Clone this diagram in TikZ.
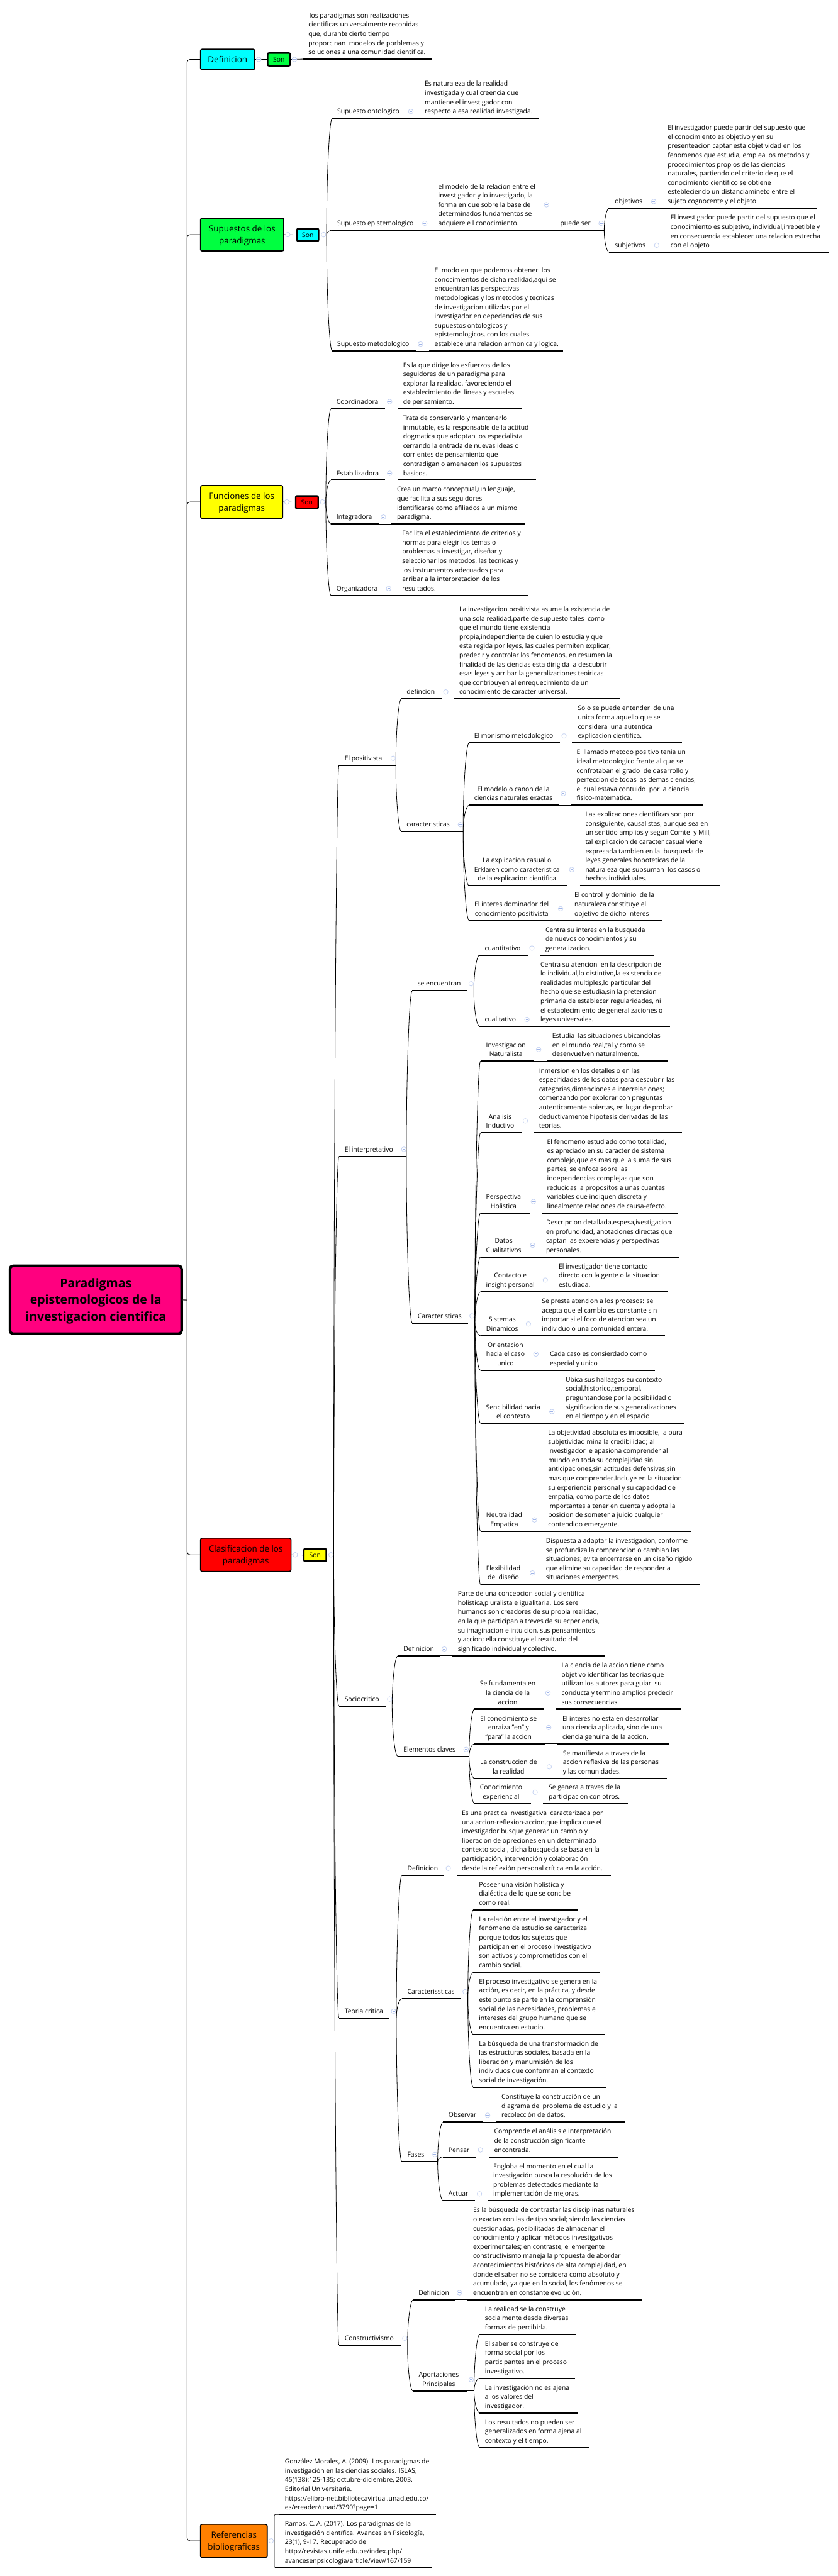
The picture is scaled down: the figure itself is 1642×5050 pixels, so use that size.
\documentclass[tikz,border=0pt]{standalone}
\usepackage{fontspec}
\setmainfont{Open Sans}
\usetikzlibrary{calc}
\definecolor{cPink}{HTML}{FF007F}
\definecolor{cGreen}{HTML}{00FF40}
\definecolor{cCyan}{HTML}{00FFFF}
\definecolor{cYellow}{HTML}{FFFF00}
\definecolor{cRed}{HTML}{FF0000}
\definecolor{cOrange}{HTML}{FF8000}
\definecolor{cRing}{HTML}{C6D3F2}
\definecolor{cDash}{HTML}{9FB4E8}
\tikzset{
 x=1pt,y=-1pt,
 tx/.style={anchor=south west,inner sep=0pt,outer sep=0pt,align=left,text depth=0pt,font=\fontsize{12.75}{18}\selectfont},
 tcx/.style={tx,align=center},
 under/.style={line width=2.5pt,black},
 conn/.style={line width=1pt,black},
 rootbox/.style={draw=black,line width=5pt,rounded corners=6pt,fill=cPink,align=center,inner sep=0pt,font=\fontsize{24}{33}\selectfont\bfseries},
 mainbox/.style={draw=black,line width=2pt,rounded corners=3pt,align=center,inner sep=0pt,font=\fontsize{16.5}{24}\selectfont},
 sonbox/.style={draw=black,line width=3pt,rounded corners=2.5pt,align=center,inner sep=0pt,font=\fontsize{12.8}{18}\selectfont},
 ring/.style={draw=cRing,fill=white,line width=1pt},
 dashmark/.style={draw=cDash,line width=1pt},
}
\newcommand\tp[6]{%
 \coordinate (#1L) at (#2,#4);
 \coordinate (#1R) at (#3,#4);
 \node[tx] (#1) at (#5,#4-9.2) {#6};
 \draw[under] (#1L) -- (#1R);
}
\newcommand\tc[6]{%
 \coordinate (#1L) at (#2,#4);
 \coordinate (#1R) at (#3,#4);
 \node[tcx] (#1) at (#5,#4-9.2) {#6};
 \draw[under] (#1L) -- (#1R);
}
\newcommand\cv[2]{\draw[conn] (#1) .. controls ($(#1)!.5!(#1|-#2)$) and ($(#2)!.5!(#1|-#2)$) .. (#2);}
\newcommand\upR{\rule{0pt}{23.5pt}}
\newcommand\upM{\rule{0pt}{16pt}}
\begin{document}
\begin{tikzpicture}
\useasboundingbox[fill=white] (0,0) rectangle (1642,5050);

% main boxes
\node[rootbox,minimum width=336.5pt,minimum height=133pt] (root) at (187.75,2548) {\upR Paradigmas\\epistemologicos de la\\investigacion cientifica};
\coordinate (trunk) at (366.5,2548.8);
\node[mainbox,fill=cCyan,minimum width=106pt,minimum height=40pt] (defb) at (446,116.5) {Definicion};
\node[sonbox,fill=cGreen,minimum width=44pt,minimum height=25pt] (sond) at (546.5,116.5) {Son};
\node[mainbox,fill=cGreen,minimum width=163pt,minimum height=64pt] (supb) at (474.5,460) {\upM Supuestos de los\\paradigmas};
\node[sonbox,fill=cCyan,minimum width=42.5pt,minimum height=24pt] (sons) at (603.2,460.5) {Son};
\node[mainbox,fill=cYellow,minimum width=160.7pt,minimum height=64.6pt] (funb) at (473.65,984) {\upM Funciones de los\\paradigmas};
\node[sonbox,fill=cRed,minimum width=44pt,minimum height=24.6pt] (sonf) at (601.5,984.5) {Son};
\node[mainbox,fill=cRed,minimum width=177.4pt,minimum height=65pt] (clab) at (481.7,3048) {\upM Clasificacion de los\\paradigmas};
\node[sonbox,fill=cYellow,minimum width=44pt,minimum height=24pt] (sonc) at (617.5,3048.5) {Son};
\node[mainbox,fill=cOrange,minimum width=130.6pt,minimum height=64.6pt] (refb) at (458.3,4981) {\upM Referencias\\bibliograficas};

% Definicion
\tp{defl}{593}{847.5}{116}{604.5}{\hspace*{2pt}los paradigmas son realizaciones\\cientificas universalmente reconidas\\que, durante cierto tiempo\\proporcinan~~modelos de porblemas y\\soluciones a una comunidad cientifica.}

% Supuestos
\tp{onto}{651}{797}{232}{661}{Supuesto ontologico}
\tp{ontol}{822}{1055.6}{232}{832.5}{Es naturaleza de la realidad\\investigada y cual creencia que\\mantiene el investigador con\\respecto a esa realidad investigada.}
\tp{epis}{651}{824}{451.3}{661}{Supuesto epistemologico}
\tp{episl}{849}{1063}{451.3}{859}{el modelo de la relacion entre el\\investigador y lo investigado, la\\forma en que sobre la base de\\determinados fundamentos se\\adquiere e l conocimiento.}
\tp{puede}{1087}{1170}{451.3}{1098}{puede ser}
\tp{obj}{1194}{1273}{408}{1205}{objetivos}
\tp{objl}{1298}{1602}{408}{1308.5}{El investigador puede partir del supuesto que\\el conocimiento es objetivo y en su\\presenteacion captar esta objetividad en los\\fenomenos que estudia, emplea los metodos y\\procedimientos propios de las ciencias\\naturales, partiendo del criterio de que el\\conocimiento cientifico se obtiene\\estebleciendo un distanciamineto entre el\\sujeto cognocente y el objeto.}
\tp{sub}{1194}{1279.5}{494.5}{1205}{subjetivos}
\tp{subl}{1304}{1624}{494.5}{1314}{El investigador puede partir del supuesto que el\\conocimiento es subjetivo, individual,irrepetible y\\en consecuencia establecer una relacion estrecha\\con el objeto}
\tp{meto}{651}{816}{688}{661}{Supuesto metodologico}
\tp{metol}{841}{1104}{688}{851.6}{El modo en que podemos obtener~~los\\conocimientos de dicha realidad,aqui se\\encuentran las perspectivas\\metodologicas y los metodos y tecnicas\\de investigacion utilizdas por el\\investigador en depedencias de sus\\supuestos ontologicos y\\epistemologicos, con los cuales\\establece una relacion armonica y logica.}

% Funciones
\tp{coor}{648.7}{755}{801.3}{659.5}{Coordinadora}
\tp{coorl}{779.4}{1022}{801.3}{790}{Es la que dirige los esfuerzos de los\\seguidores de un paradigma para\\explorar la realidad, favoreciendo el\\establecimiento de~~lineas y escuelas\\de pensamiento.}
\tp{esta}{648.7}{755}{941.3}{659.5}{Estabilizadora}
\tp{estal}{779.4}{1051}{941.3}{790}{Trata de conservarlo y mantenerlo\\inmutable, es la responsable de la actitud\\dogmatica que adoptan los especialista\\cerrando la entrada de nuevas ideas o\\corrientes de pensamiento que\\contradigan o amenacen los supuestos\\basicos.}
\tp{inte}{648.7}{743}{1027.3}{659.5}{Integradora}
\tp{intel}{767.3}{1030}{1027.3}{778}{Crea un marco conceptual,un lenguaje,\\que facilita a sus seguidores\\identificarse como afiliados a un mismo\\paradigma.}
\tp{orga}{648.7}{753.3}{1167.3}{659.5}{Organizadora}
\tp{orgal}{777.5}{1035}{1167.3}{788.3}{Facilita el establecimiento de criterios y\\normas para elegir los temas o\\problemas a investigar, diseñar y\\seleccionar los metodos, las tecnicas y\\los instrumentos adecuados para\\arribar a la interpretacion de los\\resultados.}

% Positivista
\tp{posi}{664.2}{762.6}{1500.4}{675.4}{El positivista}
\tp{dfn}{786.4}{865.4}{1370.3}{797}{defincion}
\tp{dfnl}{889.6}{1214.4}{1370.3}{900.3}{La investigacion positivista asume la existencia de\\una sola realidad,parte de supuesto tales~~como\\que el mundo tiene existencia\\propia,independiente de quien lo estudia y que\\esta regida por leyes, las cuales permiten explicar,\\predecir y controlar los fenomenos, en resumen la\\finalidad de las ciencias esta dirigida~~a descubrir\\esas leyes y arribar la generalizaciones teoiricas\\que contribuyen al enrequecimiento de un\\conocimiento de caracter universal.}
\tp{car}{786.4}{894.5}{1630}{797}{caracteristicas}
\tp{moni}{919.2}{1097.6}{1456.2}{929.4}{El monismo metodologico}
\tp{monil}{1121.3}{1336.6}{1456.2}{1132.5}{Solo se puede entender~~de una\\unica forma aquello que se\\considera~~una autentica\\explicacion cientifica.}
\tc{mode}{919.2}{1095.6}{1578.5}{929.4}{El modelo o canon de la\\ciencias naturales exactas}
\tp{model}{1119.4}{1377.8}{1578.5}{1130}{El llamado metodo positivo tenia un\\ideal metodologico frente al que se\\confrotaban el grado~~de dasarrollo y\\perfeccion de todas las demas ciencias,\\el cual estava contuido~~por la ciencia\\fisico-matematica.}
\tc{expl}{919.2}{1112.6}{1736.3}{929.4}{La explicacion casual o\\Erklaren como caracteristica\\de la explicacion cientifica}
\tp{expll}{1136.7}{1410}{1736.3}{1147.3}{Las explicaciones cientificas son por\\consiguiente, causalistas, aunque sea en\\un sentido amplios y segun Comte~~y Mill,\\tal explicacion de caracter casual viene\\expresada tambien en la~~busqueda de\\leyes generales hopoteticas de la\\naturaleza que subsuman~~los casos o\\hechos individuales.}
\tc{inter}{919.2}{1090.3}{1804.4}{929.9}{El interes dominador del\\conocimiento positivista}
\tp{interl}{1114.6}{1297.8}{1804.4}{1125.7}{El control~~y dominio~~de la\\naturaleza constituye el\\objetivo de dicho interes}

% Interpretativo
\tp{intp}{664.2}{783}{2267}{675.4}{El interpretativo}
\tp{seen}{807.8}{915.5}{1942.3}{818.4}{se encuentran}
\tp{cuan}{939.6}{1034.3}{1872.4}{950.2}{cuantitativo}
\tp{cuanl}{1058.4}{1280.4}{1872.4}{1069}{Centra su interes en la busqueda\\de nuevos conocimientos y su\\generalizacion.}
\tp{cual}{939.6}{1024}{2012.3}{950.2}{cualitativo}
\tp{cuall}{1048.6}{1313.5}{2012.3}{1059.2}{Centra su atencion~~en la descripcion de\\lo individual,lo distintivo,la existencia de\\realidades multiples,lo particular del\\hecho que se estudia,sin la pretension\\primaria de establecer regularidades, ni\\el establecimiento de generalizaciones o\\leyes universales.}
\tp{cari}{807.8}{917.6}{2593.5}{818.4}{Caracteristicas}
\tc{natu}{941.6}{1047.3}{2080.3}{952.7}{Investigacion\\Naturalista}
\tp{natul}{1071.4}{1309.4}{2080.3}{1082.4}{Estudia~~las situaciones ubicandolas\\en el mundo real,tal y como se\\desenvuelven naturalmente.}
\tc{anal}{941.6}{1021.6}{2220.7}{952.7}{Analisis\\Inductivo}
\tp{anall}{1045.7}{1336.7}{2220.7}{1056.3}{Inmersion en los detalles o en las\\especifidades de los datos para descubrir las\\categorias,dimenciones e interrelaciones;\\comenzando por explorar con preguntas\\autenticamente abiertas, en lugar de probar\\deductivamente hipotesis derivadas de las\\teorias.}
\tc{holi}{941.6}{1037.6}{2378}{952.7}{Perspectiva\\Holistica}
\tp{holil}{1061.6}{1329.4}{2378}{1072.2}{El fenomeno estudiado como totalidad,\\es apreciado en su caracter de sistema\\complejo,que es mas que la suma de sus\\partes, se enfoca sobre las\\independencias complejas que son\\reducidas~~a propositos a unas cuantas\\variables que indiquen discreta y\\linealmente relaciones de causa-efecto.}
\tc{dato}{941.6}{1035.5}{2464.5}{952.7}{Datos\\Cualitativos}
\tp{datol}{1059.6}{1330.2}{2464.5}{1070.2}{Descripcion detallada,espesa,ivestigacion\\en profundidad, anotaciones directas que\\captan las experencias y perspectivas\\personales.}
\tc{cont}{941.6}{1060.4}{2532.2}{952.7}{Contacto e\\insight personal}
\tp{contl}{1084.5}{1309.4}{2532.2}{1095}{El investigador tiene contacto\\directo con la gente o la situacion\\estudiada.}
\tc{sist}{941.6}{1027.8}{2618.4}{953}{Sistemas\\Dinamicos}
\tp{sistl}{1051.8}{1303.7}{2618.4}{1062}{Se presta atencion a los procesos: se\\acepta que el cambio es constante sin\\importar si el foco de atencion sea un\\individuo o una comunidad entera.}
\tc{orie}{941.6}{1042}{2686.5}{953}{Orientacion\\hacia el caso\\unico}
\tp{oriel}{1066.5}{1283.3}{2686.5}{1077.6}{Cada caso es consierdado como\\especial y unico}
\tc{senc}{941.6}{1073.5}{2790.2}{952.7}{Sencibilidad hacia\\el contexto}
\tp{sencl}{1097.6}{1339.6}{2790.2}{1108.6}{Ubica sus hallazgos eu contexto\\social,historico,temporal,\\preguntandose por la posibilidad o\\significacion de sus generalizaciones\\en el tiempo y en el espacio}
\tc{neut}{941.6}{1039.6}{3002}{953}{Neutralidad\\Empatica}
\tp{neutl}{1063.7}{1353.5}{3002}{1074.3}{La objetividad absoluta es imposible, la pura\\subjetividad mina la credibilidad; al\\investigador le apasiona comprender al\\mundo en toda su complejidad sin\\anticipaciones,sin actitudes defensivas,sin\\mas que comprender.Incluye en la situacion\\su experiencia personal y su capacidad de\\empatia, como parte de los datos\\importantes a tener en cuenta y adopta la\\posicion de someter a juicio cualquier\\contendido emergente.}
\tc{flex}{941.5}{1035.5}{3106.2}{953}{Flexibilidad\\del diseño}
\tp{flexl}{1059.8}{1371.5}{3106.2}{1070}{Dispuesta a adaptar la investigacion, conforme\\se profundiza la comprencion o cambian las\\situaciones; evita encerrarse en un diseño rigido\\que elimine su capacidad de responder a\\situaciones emergentes.}

% Sociocritico
\tp{soci}{664.2}{755.4}{3344.4}{675.4}{Sociocritico}
\tp{sdef}{779.6}{862.5}{3246}{790.8}{Definicion}
\tp{sdefl}{886.7}{1185.3}{3246}{897.4}{Parte de una concepcion social y cientifica\\holistica,pluralista e igualitaria. Los sere\\humanos son creadores de su propia realidad,\\en la que participan a treves de su ecperiencia,\\su imaginacion e intuicion, sus pensamientos\\y accion; ella constituye el resultado del\\significado individual y colectivo.}
\tp{elem}{779.6}{905.6}{3443.2}{790.8}{Elementos claves}
\tc{sefu}{929.9}{1065.6}{3350.4}{940.5}{Se fundamenta en\\la ciencia de la\\accion}
\tp{seful}{1089.8}{1335.6}{3350.4}{1100.5}{La ciencia de la accion tiene como\\objetivo identificar las teorias que\\utilizan los autores para guiar~~su\\conducta y termino amplios predecir\\sus consecuencias.}
\tc{econ}{929.9}{1067.5}{3418.5}{941}{El conocimiento se\\enraiza "en" y\\"para" la accion}
\tp{econl}{1091.8}{1311.4}{3418.5}{1102.4}{El interes no esta en desarrollar\\una ciencia aplicada, sino de una\\ciencia genuina de la accion.}
\tc{lcon}{929.9}{1068.5}{3486.5}{941}{La construccion de\\la realidad}
\tp{lconl}{1092.7}{1306.5}{3486.5}{1103.4}{Se manifiesta a traves de la\\accion reflexiva de las personas\\y las comunidades.}
\tc{cexp}{929.9}{1040.4}{3536}{940.5}{Conocimiento\\experiencial}
\tp{cexpl}{1064.6}{1230.4}{3536}{1075.3}{Se genera a traves de la\\participacion con otros.}

% Teoria critica
\tp{teor}{664.2}{763.6}{3956}{675.4}{Teoria critica}
\tp{tdef}{787.4}{870.2}{3676}{798.5}{Definicion}
\tp{tdefl}{894.5}{1197.4}{3676}{905.2}{Es una practica investigativa~~caracterizada por\\una accion-reflexion-accion,que implica que el\\investigador busque generar un cambio y\\liberacion de opreciones en un determinado\\contexto social, dicha busqueda se basa en la\\participación, intervención y colaboración\\desde la reflexión personal crítica en la acción.}
\tp{tcar}{787.4}{903.2}{3918.2}{798.5}{Caracterissticas}
\tp{tca}{927.4}{1132.5}{3744.3}{938.6}{Poseer una visión holística y\\dialéctica de lo que se concibe\\como real.}
\tp{tcb}{927.4}{1175.6}{3866}{938.6}{La relación entre el investigador y el\\fenómeno de estudio se caracteriza\\porque todos los sujetos que\\participan en el proceso investigativo\\son activos y comprometidos con el\\cambio social.}
\tp{tcc}{927.4}{1185.3}{3988.2}{938.6}{El proceso investigativo se genera en la\\acción, es decir, en la práctica, y desde\\este punto se parte en la comprensión\\social de las necesidades, problemas e\\intereses del grupo humano que se\\encuentra en estudio.}
\tp{tcd}{927.4}{1188.7}{4092}{938.6}{La búsqueda de una transformación de\\las estructuras sociales, basada en la\\liberación y manumisión de los\\individuos que conforman el contexto\\social de investigación.}
\tp{fase}{787.4}{844.6}{4237.3}{798.5}{Fases}
\tp{obse}{868.3}{946.8}{4160.3}{879}{Observar}
\tp{obsel}{972}{1225}{4160.3}{982.7}{Constituye la construcción de un\\diagrama del problema de estudio y la\\recolección de datos.}
\tp{pens}{868.3}{933.3}{4228.3}{879}{Pensar}
\tp{pensl}{957.5}{1212.5}{4228.3}{968.6}{Comprende el análisis e interpretación\\de la construcción significante\\encontrada.}
\tp{actu}{868.3}{931.3}{4314.3}{879}{Actuar}
\tp{actul}{955.6}{1214.4}{4314.3}{966.7}{Engloba el momento en el cual la\\investigación busca la resolución de los\\problemas detectados mediante la\\implementación de mejoras.}

% Constructivismo
\tp{cons}{664.2}{785.4}{4597.3}{675.4}{Constructivismo}
\tp{cdef}{809.7}{892}{4508.3}{820.3}{Definicion}
\tp{cdefl}{916.3}{1257.5}{4508.3}{927.4}{Es la búsqueda de contrastar las disciplinas naturales\\o exactas con las de tipo social; siendo las ciencias\\cuestionadas, posibilitadas de almacenar el\\conocimiento y aplicar métodos investigativos\\experimentales; en contraste, el emergente\\constructivismo maneja la propuesta de abordar\\acontecimientos históricos de alta complejidad, en\\donde el saber no se considera como absoluto y\\acumulado, ya que en lo social, los fenómenos se\\encuentran en constante evolución.}
\tc{apor}{809.2}{916}{4687.3}{820.7}{Aportaciones\\Principales}
\tp{apa}{940}{1129.6}{4576.3}{950.5}{La realidad se la construye\\socialmente desde diversas\\formas de percibirla.}
\tp{apb}{940}{1126.3}{4662.3}{950.5}{El saber se construye de\\forma social por los\\participantes en el proceso\\investigativo.}
\tp{apc}{940}{1131.8}{4730.3}{950.5}{La investigación no es ajena\\a los valores del\\investigador.}
\tp{apd}{940}{1153.4}{4798.3}{950.5}{Los resultados no pueden ser\\generalizados en forma ajena al\\contexto y el tiempo.}

% Referencias
\tp{refa}{547.6}{854.5}{4929.3}{558.4}{González Morales, A. (2009). Los paradigmas de\\investigación en las ciencias sociales. ISLAS,\\45(138):125-135; octubre-diciembre, 2003.\\Editorial Universitaria.\\https://elibro-net.bibliotecavirtual.unad.edu.co/\\es/ereader/unad/3790?page=1}
\tp{refc}{547.6}{846.4}{5033.3}{558.4}{Ramos, C. A. (2017). Los paradigmas de la\\investigación científica. Avances en Psicología,\\23(1), 9-17. Recuperado de\\http://revistas.unife.edu.pe/index.php/\\avancesenpsicologia/article/view/167/159}

% branch points
\coordinate (bsup) at (640,460.5);
\coordinate (bpue) at (1184,451.3);
\coordinate (bfun) at (638.5,984.5);
\coordinate (bcla) at (654,3048.5);
\coordinate (bpos) at (775.7,1500.4);
\coordinate (bcar) at (907.6,1630);
\coordinate (bint) at (796.3,2267);
\coordinate (bsee) at (928.6,1942.3);
\coordinate (bcri) at (930.6,2593.5);
\coordinate (bsoc) at (768.5,3344.4);
\coordinate (bele) at (919.2,3443.2);
\coordinate (bteo) at (776.7,3956);
\coordinate (btca) at (916.8,3918.2);
\coordinate (bfas) at (857.6,4237.3);
\coordinate (bcon) at (798.5,4597.3);
\coordinate (bapo) at (929,4687.3);
\coordinate (bref) at (537.4,4981);

% root and trunk
\draw[line width=2pt,black!60] (root.east) -- (trunk);
\draw[conn,rounded corners=6pt] (trunk) |- (defb.west);
\draw[conn,rounded corners=6pt] (trunk) |- (supb.west);
\draw[conn,rounded corners=6pt] (trunk) |- (funb.west);
\draw[conn,rounded corners=6pt] (trunk) |- (clab.west);
\draw[conn,rounded corners=6pt] (trunk) |- (refb.west);

% box links
\draw[conn] (defb.east) -- (sond.west);
\draw[conn] (sond.east) -- (deflL);
\draw[conn] (supb.east) -- (sons.west);
\draw[conn] (sons.east) -- (bsup);
\draw[conn] (funb.east) -- (sonf.west);
\draw[conn] (sonf.east) -- (bfun);
\draw[conn] (clab.east) -- (sonc.west);
\draw[conn] (sonc.east) -- (bcla);
\draw[conn] (refb.east) -- (bref);
\draw[conn,rounded corners=2pt] (bref) |- (refaL);
\draw[conn,rounded corners=2pt] (bref) |- (refcL);

% label to text links
\draw[conn] (ontoR) -- (ontolL);
\draw[conn] (episR) -- (epislL);
\draw[conn] (epislR) -- (puedeL);
\draw[conn] (puedeR) -- (bpue);
\draw[conn] (objR) -- (objlL);
\draw[conn] (subR) -- (sublL);
\draw[conn] (metoR) -- (metolL);
\draw[conn] (coorR) -- (coorlL);
\draw[conn] (estaR) -- (estalL);
\draw[conn] (inteR) -- (intelL);
\draw[conn] (orgaR) -- (orgalL);
\draw[conn] (posiR) -- (bpos);
\draw[conn] (dfnR) -- (dfnlL);
\draw[conn] (carR) -- (bcar);
\draw[conn] (moniR) -- (monilL);
\draw[conn] (modeR) -- (modelL);
\draw[conn] (explR) -- (expllL);
\draw[conn] (interR) -- (interlL);
\draw[conn] (intpR) -- (bint);
\draw[conn] (seenR) -- (bsee);
\draw[conn] (cuanR) -- (cuanlL);
\draw[conn] (cualR) -- (cuallL);
\draw[conn] (cariR) -- (bcri);
\draw[conn] (natuR) -- (natulL);
\draw[conn] (analR) -- (anallL);
\draw[conn] (holiR) -- (holilL);
\draw[conn] (datoR) -- (datolL);
\draw[conn] (contR) -- (contlL);
\draw[conn] (sistR) -- (sistlL);
\draw[conn] (orieR) -- (orielL);
\draw[conn] (sencR) -- (senclL);
\draw[conn] (neutR) -- (neutlL);
\draw[conn] (flexR) -- (flexlL);
\draw[conn] (sociR) -- (bsoc);
\draw[conn] (sdefR) -- (sdeflL);
\draw[conn] (elemR) -- (bele);
\draw[conn] (sefuR) -- (sefulL);
\draw[conn] (econR) -- (econlL);
\draw[conn] (lconR) -- (lconlL);
\draw[conn] (cexpR) -- (cexplL);
\draw[conn] (teorR) -- (bteo);
\draw[conn] (tdefR) -- (tdeflL);
\draw[conn] (tcarR) -- (btca);
\draw[conn] (faseR) -- (bfas);
\draw[conn] (obseR) -- (obselL);
\draw[conn] (pensR) -- (penslL);
\draw[conn] (actuR) -- (actulL);
\draw[conn] (consR) -- (bcon);
\draw[conn] (cdefR) -- (cdeflL);
\draw[conn] (aporR) -- (bapo);

% curved branches
\cv{bsup}{ontoL} \cv{bsup}{episL} \cv{bsup}{metoL}
\cv{bpue}{objL} \cv{bpue}{subL}
\cv{bfun}{coorL} \cv{bfun}{estaL} \cv{bfun}{inteL} \cv{bfun}{orgaL}
\cv{bcla}{posiL} \cv{bcla}{intpL} \cv{bcla}{sociL} \cv{bcla}{teorL} \cv{bcla}{consL}
\cv{bpos}{dfnL} \cv{bpos}{carL}
\cv{bcar}{moniL} \cv{bcar}{modeL} \cv{bcar}{explL} \cv{bcar}{interL}
\cv{bint}{seenL} \cv{bint}{cariL}
\cv{bsee}{cuanL} \cv{bsee}{cualL}
\cv{bcri}{natuL} \cv{bcri}{analL} \cv{bcri}{holiL} \cv{bcri}{datoL} \cv{bcri}{contL} \cv{bcri}{sistL} \cv{bcri}{orieL} \cv{bcri}{sencL} \cv{bcri}{neutL} \cv{bcri}{flexL}
\cv{bsoc}{sdefL} \cv{bsoc}{elemL}
\cv{bele}{sefuL} \cv{bele}{econL} \cv{bele}{lconL} \cv{bele}{cexpL}
\cv{bteo}{tdefL} \cv{bteo}{tcarL} \cv{bteo}{faseL}
\cv{btca}{tcaL} \cv{btca}{tcbL} \cv{btca}{tccL} \cv{btca}{tcdL}
\cv{bfas}{obseL} \cv{bfas}{pensL} \cv{bfas}{actuL}
\cv{bcon}{cdefL} \cv{bcon}{aporL}
\cv{bapo}{apaL} \cv{bapo}{apbL} \cv{bapo}{apcL} \cv{bapo}{apdL}

% collapse marks
\foreach \cx/\cy in {507/116.5,577/116.5,564/460,634/460,805/218.5,832.5/437.6,824/674.5,1071/401.3,1178/437.6,1281/395,1287/480.7,
 562/984,632/984,763.5/787.3,763.5/927.7,751.3/1013.7,761.6/1153.7,578.6/3048,648.7/3048,
 770.4/1486.5,873.6/1356.4,902.2/1616.6,1105.3/1442.7,1103.9/1555.5,1120.4/1704.7,1098.6/1781.4,
 791.4/2253,923.3/1928.5,1042.4/1858.5,1032.7/1998.5,925/2579.6,1055.5/2057.4,1029.4/2197.4,1045.3/2355.6,1043.7/2441.2,1068.6/2509.4,1035.5/2595.5,1050.2/2654.3,1081.6/2767.3,1047.3/2979.6,1043.3/3083.6,
 763.6/3330.8,870.7/3232.7,913.4/3429.5,1073.8/3318.6,1075.3/3386.6,1076.3/3463.6,1048.6/3513.5,
 771.4/3942.9,878.5/3662.5,911.5/3904.6,852.3/4223.7,955.6/4146.7,941.5/4214.7,939.6/4300.7,
 793.2/4583.7,900.3/4494.7,923.5/4665,531.3/4981}{
 \draw[ring] (\cx,\cy) circle (4.6);
 \draw[dashmark] (\cx-2.6,\cy) -- (\cx+2.6,\cy);
}
\end{tikzpicture}
\end{document}
